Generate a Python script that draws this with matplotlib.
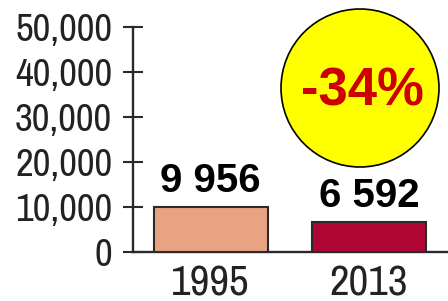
import matplotlib
matplotlib.use('Agg')
import matplotlib.pyplot as plt
from matplotlib.patches import Circle

anos = ['1995', '2013']
valores = [9956, 6592]
rotulos = ['9 956', '6 592']
cores = ['#E8A383', '#AE0535']
yticks = [0, 10000, 20000, 30000, 40000, 50000]
variacao = '-34%'

estreita = ['Archivo Narrow', 'Liberation Sans']
negrito = ['Liberation Sans', 'DejaVu Sans']

fig = plt.figure(figsize=(4.48, 3.01), dpi=100)
ax = fig.add_axes([133/448, 49/301, 315/448, 225/301])

x = list(range(len(anos)))
ax.bar(x, valores, width=0.72, color=cores, edgecolor='#2a2a2a', linewidth=1.5, zorder=3)

for xi, v, r in zip(x, valores, rotulos):
    ax.annotate(r, (xi, v), xytext=(0, 11), textcoords='offset points',
                ha='center', va='baseline', fontsize=29, fontweight='bold', family=negrito)

ax.set_xlim(-0.49, 1.5)
ax.set_ylim(0, 50000)
ax.set_yticks(yticks)
ax.set_yticklabels([f'{t:,}' for t in yticks], family=estreita, fontsize=28, color='#222222')
ax.set_xticks(x)
ax.set_xticklabels(anos, family=estreita, fontsize=31, color='#222222')
ax.tick_params(axis='y', direction='inout', length=14, width=1.5, color='#2a2a2a', pad=8)
ax.tick_params(axis='x', length=0, pad=9)

for s in ['top', 'right']:
    ax.spines[s].set_visible(False)
for s in ['left', 'bottom']:
    ax.spines[s].set_linewidth(1.7)
    ax.spines[s].set_color('#2a2a2a')

circ = Circle((3.60, 2.13), 0.79, transform=fig.dpi_scale_trans,
              facecolor='#FFFF00', edgecolor='black', linewidth=1.2, zorder=5)
fig.add_artist(circ)
fig.text(3.62, 2.09, variacao, transform=fig.dpi_scale_trans, ha='center', va='center',
         fontsize=38, fontweight='bold', color='#CC0000', family=negrito, zorder=6)

fig.savefig('out.png', dpi=100)
